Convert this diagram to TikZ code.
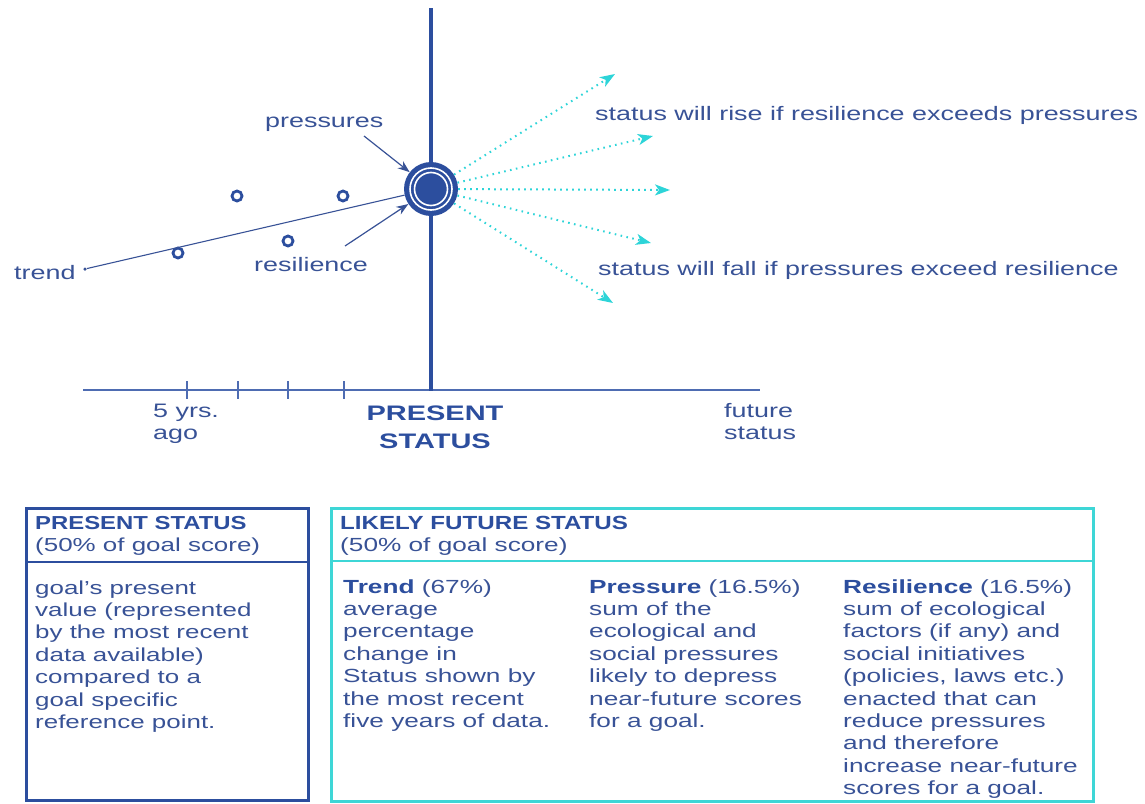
\documentclass[tikz,border=0pt]{standalone}
\usepackage{fontspec}
\setmainfont{Liberation Sans}[FakeStretch=1.38]
\newfontfamily\headfont{Liberation Sans}[FakeStretch=1.27]
\usetikzlibrary{arrows.meta,calc}
\definecolor{navy}{RGB}{44,78,158}
\definecolor{inkblue}{RGB}{56,82,150}
\definecolor{axisblue}{RGB}{78,108,178}
\definecolor{aqua}{RGB}{45,212,216}
\definecolor{boxaqua}{RGB}{62,214,214}
\newcommand{\boxhead}[1]{{\headfont\bfseries\color{navy}#1}}

\begin{document}
% multi-line labels are anchored at the baseline of their last line
\begin{tikzpicture}[x=1pt,y=-1pt,
  lbl/.style={text=inkblue,font=\fontsize{19.5}{22.4}\selectfont,inner sep=0pt,align=left,anchor=base west},
  boxtxt/.style={lbl,font=\fontsize{18.8}{22.4}\selectfont},
  coltxt/.style={lbl,font=\fontsize{19}{22.4}\selectfont},
  bigbold/.style={text=navy,font=\fontsize{21}{28}\selectfont\bfseries,inner sep=0pt,align=center,anchor=base},
  datum/.style={circle,draw=navy,line width=2.8pt,fill=white,minimum size=10pt,inner sep=0pt},
  pointer/.style={draw=inkblue,line width=1.2pt,-{Stealth[length=12pt,width=9pt]}},
  ray/.style={draw=aqua,line width=2pt,dash pattern=on 1.6pt off 4.4pt,-{Stealth[length=15pt,width=11pt,inset=4pt]}},
  tick/.style={draw=axisblue,line width=1.2pt},
]
\useasboundingbox (0,0) rectangle (1145,803);

% time axis and present-status line
\draw[axisblue,line width=1.6pt] (83,390) -- (760,390);
\foreach \tx in {187,238,288,344} \draw[tick] (\tx,381) -- (\tx,399);
\draw[navy,line width=4pt] (431,8) -- (431,391);

% present status marker
\node[circle,fill=navy,minimum size=54pt,inner sep=0pt] (now) at (431,189) {};
\draw[white,line width=1.6pt] (now.center) circle (21pt);
\draw[white,line width=1.6pt] (now.center) circle (16.5pt);

% past data points
\node[datum] (p1) at (178,253) {};
\node[datum] (p2) at (237,196) {};
\node[datum] (p3) at (288,241) {};
\node[datum] (p4) at (343,196) {};

% trend line
\node[circle,fill=inkblue,minimum size=3.5pt,inner sep=0pt] (tdot) at (85,269) {};
\draw[inkblue,line width=1.1pt] (tdot) -- (now);
\node[lbl] (trend) at (14,279) {trend};

% pressure and resilience pointers
\node[lbl] (press) at (265,127) {pressures};
\node[lbl] (resil) at (254,271) {resilience};
\coordinate (pstart) at (364,136);
\coordinate (rstart) at (345,246);
\draw[pointer] (pstart) -- (now);
\draw[pointer] (rstart) -- (now);

% possible future directions
\coordinate (f1) at (615,74);
\coordinate (f2) at (653,136);
\coordinate (f3) at (670,190);
\coordinate (f4) at (651,243);
\coordinate (f5) at (613,303);
\foreach \f in {f1,f2,f3,f4,f5} \draw[ray] (now) -- (\f);
\node[lbl] (rise) at (595,120) {status will rise if resilience exceeds pressures};
\node[lbl] (fall) at (598,275) {status will fall if pressures exceed resilience};

% axis labels
\node[lbl] (ago) at (153,439.4) {5 yrs.\\ago};
\node[bigbold] (present) at (435,448) {PRESENT\\STATUS};
\node[lbl] (future) at (724,439.4) {future\\status};

% present status box
\draw[navy,line width=3pt] (26,508) rectangle (308,800);
\draw[navy,line width=2pt] (26,562) -- (308,562);
\node[boxtxt] (phead) at (35,551.4) {\boxhead{PRESENT STATUS}\\(50\% of goal score)};
\node[boxtxt] (pbody) at (35,728.4) {goal’s present\\value (represented\\by the most recent\\data available)\\compared to a\\goal specific\\reference point.};

% likely future status box
\draw[boxaqua,line width=3pt] (331,508) rectangle (1093,801);
\draw[boxaqua,line width=2.5pt] (331,561) -- (1093,561);
\node[coltxt] (fhead) at (340,551.4) {\boxhead{LIKELY FUTURE STATUS}\\(50\% of goal score)};
\node[coltxt] (ctrend) at (343,727.4) {\textbf{\textcolor{navy}{Trend}} (67\%)\\average\\percentage\\change in\\Status shown by\\the most recent\\five years of data.};
\node[coltxt] (cpress) at (589,727.4) {\textbf{\textcolor{navy}{Pressure}} (16.5\%)\\sum of the\\ecological and\\social pressures\\likely to depress\\near-future scores\\for a goal.};
\node[coltxt] (cresil) at (843,794.6) {\textbf{\textcolor{navy}{Resilience}} (16.5\%)\\sum of ecological\\factors (if any) and\\social initiatives\\(policies, laws etc.)\\enacted that can\\reduce pressures\\and therefore\\increase near-future\\scores for a goal.};
\end{tikzpicture}
\end{document}
